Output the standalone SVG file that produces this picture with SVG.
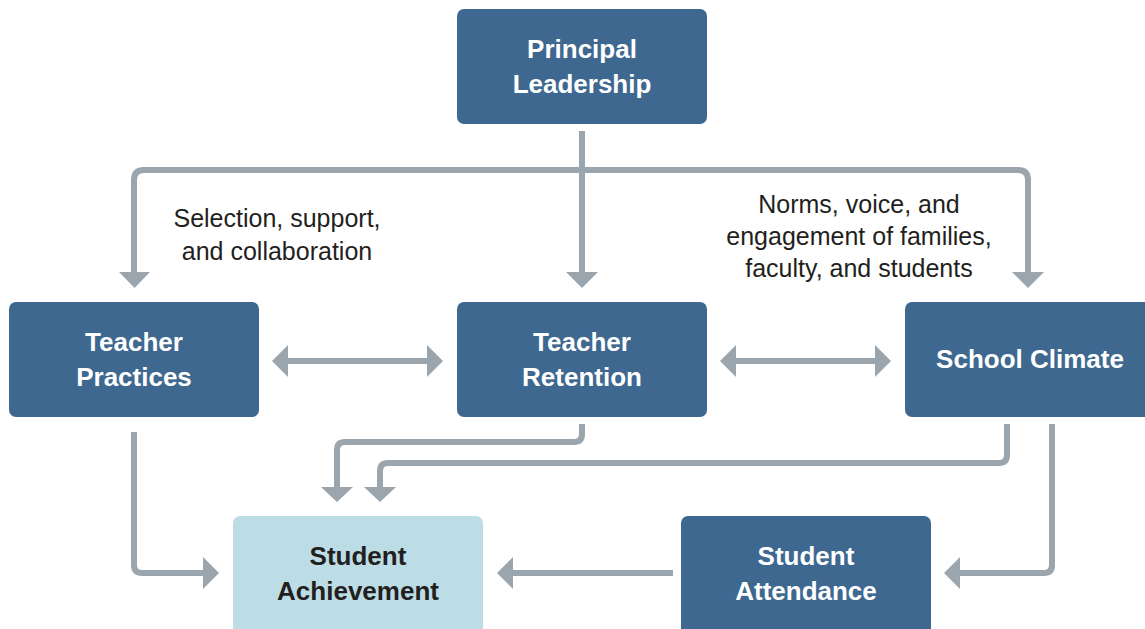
<svg xmlns="http://www.w3.org/2000/svg" width="1145" height="629" viewBox="0 0 1145 629">
<defs>
<style>
.box{fill:#3e6890}
.light{fill:#bcdde6}
.t{font-family:"Liberation Sans",Arial,sans-serif;font-weight:bold;font-size:26px;fill:#ffffff;text-anchor:middle}
.td{fill:#231f20}
.lab{font-family:"Liberation Sans",Arial,sans-serif;font-size:25px;fill:#231f20;text-anchor:middle}
.c{fill:none;stroke:#9ba5ae;stroke-width:6;stroke-linejoin:round}
.h{fill:#9ba5ae}
</style>
</defs>
<rect width="1145" height="629" fill="#ffffff"/>
<g id="connectors">
<path class="c" d="M582,131 V272"/>
<path class="c" d="M134,272 V180 Q134,170 144,170 H1018 Q1028,170 1028,180 V272"/>
<polygon class="h" points="119,272 150,272 134.5,288"/>
<polygon class="h" points="566,272 598,272 582,288"/>
<polygon class="h" points="1012,272 1044,272 1028,288"/>
<path class="c" d="M287,361 H428"/>
<polygon class="h" points="272,361 288,345 288,377"/>
<polygon class="h" points="443,361 427,345 427,377"/>
<path class="c" d="M735,361 H876"/>
<polygon class="h" points="720,361 736,345 736,377"/>
<polygon class="h" points="891,361 875,345 875,377"/>
<path class="c" d="M582,424 V434 Q582,442 574,442 H345 Q337,442 337,450 V487"/>
<polygon class="h" points="321,487 353,487 337,502"/>
<path class="c" d="M1007,424 V455 Q1007,463 999,463 H388 Q380,463 380,471 V487"/>
<polygon class="h" points="364,487 396,487 380,502"/>
<path class="c" d="M1052,424 V565 Q1052,573 1044,573 H960"/>
<polygon class="h" points="944,573 960,557 960,589"/>
<path class="c" d="M134,432 V565 Q134,573 142,573 H204"/>
<polygon class="h" points="219,573 203,557 203,589"/>
<path class="c" d="M673,573 H512"/>
<polygon class="h" points="497,573 513,557 513,589"/>
</g>
<g id="labels">
<text class="lab" x="277" y="227">Selection, support,</text>
<text class="lab" x="277" y="260">and collaboration</text>
<text class="lab" x="859" y="213">Norms, voice, and</text>
<text class="lab" x="859" y="245">engagement of families,</text>
<text class="lab" x="859" y="277">faculty, and students</text>
</g>
<g id="principal-leadership">
<rect class="box" x="457" y="9" width="250" height="115" rx="7"/>
<text class="t" x="582" y="58">Principal</text>
<text class="t" x="582" y="93">Leadership</text>
</g>
<g id="teacher-practices">
<rect class="box" x="9" y="302" width="250" height="115" rx="7"/>
<text class="t" x="134" y="351">Teacher</text>
<text class="t" x="134" y="386">Practices</text>
</g>
<g id="teacher-retention">
<rect class="box" x="457" y="302" width="250" height="115" rx="7"/>
<text class="t" x="582" y="351">Teacher</text>
<text class="t" x="582" y="386">Retention</text>
</g>
<g id="school-climate">
<rect class="box" x="905" y="302" width="250" height="115" rx="7"/>
<text class="t" x="1030" y="368">School Climate</text>
</g>
<g id="student-achievement">
<rect class="light" x="233" y="516" width="250" height="125" rx="7"/>
<text class="t td" x="358" y="565">Student</text>
<text class="t td" x="358" y="600">Achievement</text>
</g>
<g id="student-attendance">
<rect class="box" x="681" y="516" width="250" height="125" rx="7"/>
<text class="t" x="806" y="565">Student</text>
<text class="t" x="806" y="600">Attendance</text>
</g>
</svg>
